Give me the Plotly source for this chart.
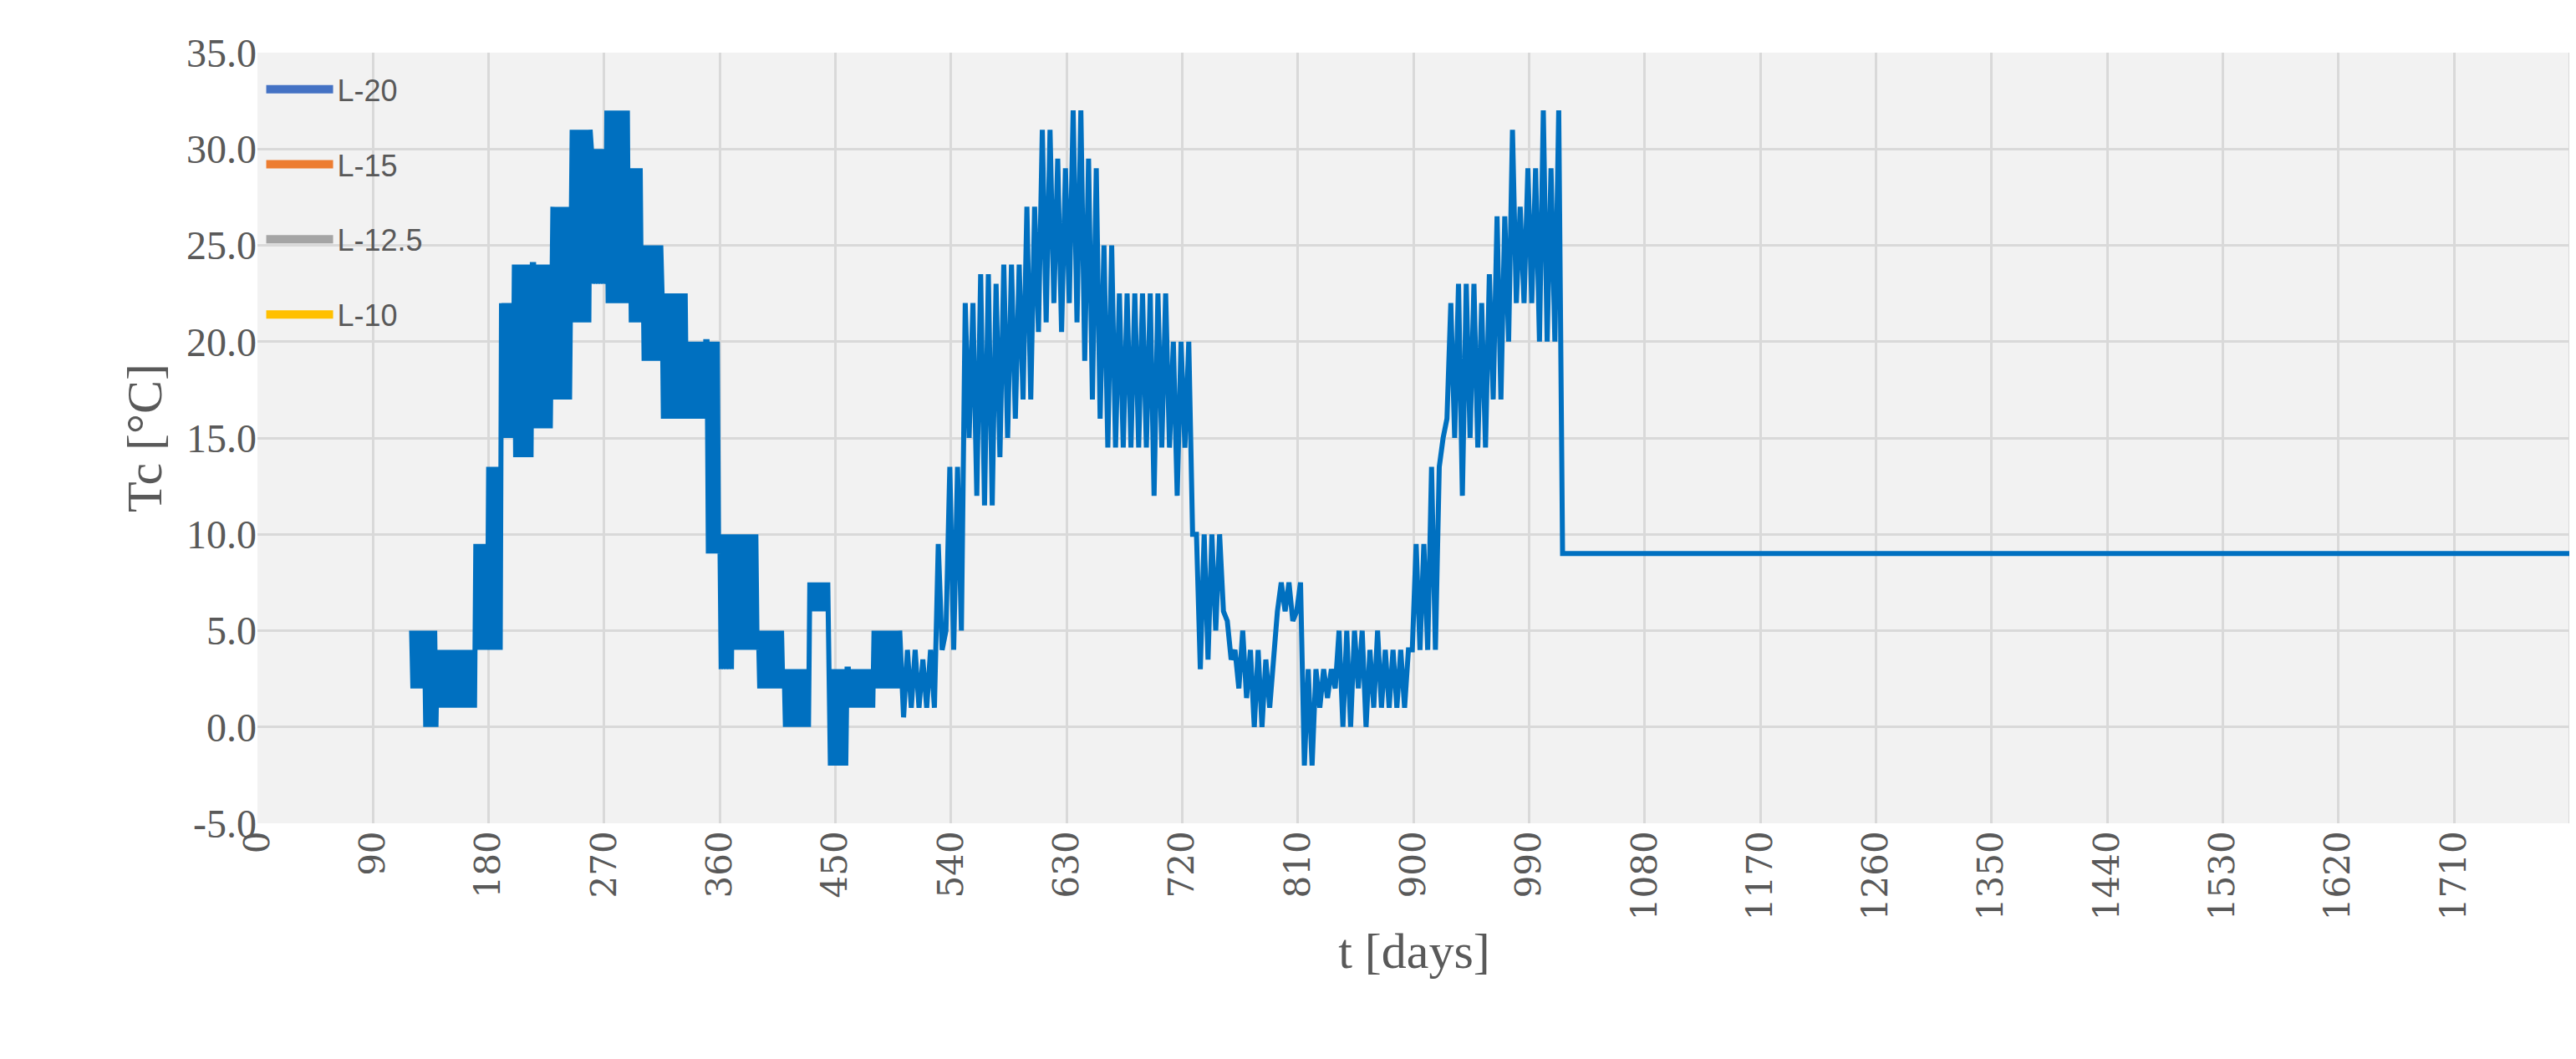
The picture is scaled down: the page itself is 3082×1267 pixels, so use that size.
import plotly.graph_objects as go

# First cycle: dense daily alternation between two levels within each segment
seg_start = [120,130,140,150,170,180,190,200,215,230,245,260,272,290,300,315,335,350,360,370,390,410,430,445,460,480]
seg_end   = [130,140,150,170,180,190,200,215,230,245,260,272,290,300,315,335,350,360,370,390,410,430,445,460,480,500]
seg_low   = [2,0,1,1,4,4,15,14,15.5,17,21,23,22,21,19,16,16,9,3,4,2,0,6,-2,1,2]
seg_high  = [5,5,4,4,9.5,13.5,22,24,24,27,31,30,32,29,25,22.5,20,20,10,10,5,3,7.5,3,3,5]

# Second part: values every 3 days from day 500
v2 = [5,0.5,4,1,4,1,3.5,1,4,1,
      9.5,4,5,13.5,4,13.5,5,22,15,22,
      12,23.5,11.5,23.5,11.5,23,14,24,15,24,
      16,24,17,27,17,27,20.5,31,21,31,
      22,29.5,20.5,29,22,32,21,32,19,29.5,
      17,29,16,25,14.5,25,14.5,22.5,14.5,22.5,
      14.5,22.5,14.5,22.5,14.5,22.5,12,22.5,14.5,22.5,
      14.5,20,12,20,14.5,20,10,10,3,10,
      3.5,10,5,10,6,5.5,3.5,4,2,5,
      1.5,4,0,4,0,3.5,1,3.5,6,7.5,
      6,7.5,5.5,6,
      7.5,-2,3,-2,3,1,3,1.5,3,2,
      5,0,5,0,5,2,5,0,4,1,
      5,1,4,1,4,1,4,1,4,4,
      9.5,4,9.5,4,13.5,4,13.5,15,16,22,
      15,23,12,23,15,23,14.5,22,14.5,23.5,
      17,26.5,17,26.5,20,31,22,27,22,29,
      22,29,20,32,20,29,20,32,9]
t2 = list(range(500, 500 + 3 * len(v2), 3))
t_end = [1800]
v_end = [9]

x_ticks = list(range(0, 1801, 90))
y_ticks = [-5, 0, 5, 10, 15, 20, 25, 30, 35]
y_labels = ["-5.0", "0.0", "5.0", "10.0", "15.0", "20.0", "25.0", "30.0", "35.0"]

xs, ys = [], []
for s, e, lo, hi in zip(seg_start, seg_end, seg_low, seg_high):
    for i, d in enumerate(range(s, e)):
        xs.append(d); ys.append(hi if i % 2 == 0 else lo)
xs += t2 + t_end
ys += v2 + v_end

names = ["L-20", "L-15", "L-12.5", "L-10"]
colors = ["#4472C4", "#ED7D31", "#A5A5A5", "#FFC000"]

fig = go.Figure()
fig.add_trace(go.Scatter(x=xs, y=ys, mode="lines", line=dict(color="#0070C0", width=6),
                         showlegend=False))
for i, (n, c) in enumerate(zip(names, colors)):
    fig.add_trace(go.Scatter(x=[None], y=[None], mode="lines", name=n,
                             line=dict(color=c, width=12), legendgroup=str(i)))

fig.update_layout(
    width=3082, height=1267, paper_bgcolor="white", plot_bgcolor="#F2F2F2",
    margin=dict(l=300, r=14, t=55, b=290),
    font=dict(family="Liberation Serif", color="#595959"),
    legend=dict(x=0.002, y=0.985, xanchor="left", yanchor="top", bgcolor="rgba(0,0,0,0)",
                font=dict(family="Liberation Sans Narrow, Liberation Sans", size=36, color="#595959"),
                tracegroupgap=40, itemwidth=80),
    xaxis=dict(range=[0, 1801], tickmode="array", tickvals=x_ticks, tickangle=-90,
               showgrid=True, gridcolor="#D9D9D9", gridwidth=3, zeroline=False,
               tickfont=dict(size=42, family="DejaVu Serif"),
               title=dict(text="t [days]", font=dict(size=60), standoff=15)),
    yaxis=dict(range=[-5, 35], tickmode="array", tickvals=y_ticks, ticktext=y_labels,
               showgrid=True, gridcolor="#D9D9D9", gridwidth=3, zeroline=False,
               tickfont=dict(size=48), ticksuffix=" ",
               title=dict(text="Tc [°C]", font=dict(size=60), standoff=10)),
)
fig.write_html("out.html")
